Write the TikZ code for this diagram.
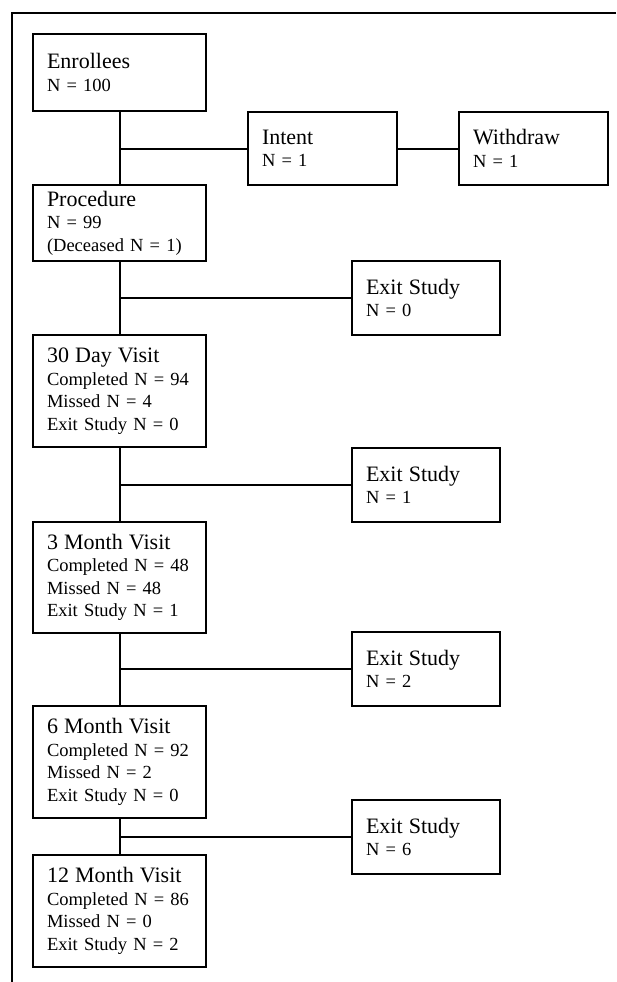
\documentclass[tikz,border=0pt]{standalone}
\usepackage{fontspec}
\setmainfont{Liberation Serif}
\newcommand{\boxhead}[1]{{\fontsize{22}{26}\selectfont #1}}

\begin{document}
\begin{tikzpicture}[x=1pt,y=-1pt,
    stage/.style={draw,line width=2pt,anchor=north west,inner xsep=14pt,inner ysep=0pt,
      text width=145pt,align=left,font=\fontsize{18.5}{22.5}\selectfont},
    side/.style={stage,text width=120pt,minimum height=74pt},
    link/.style={line width=2pt}]
      \useasboundingbox (0,0) rectangle (616,982);
      \draw[line width=2pt] (616,13) -- (12,13) -- (12,982);

      \node[stage,minimum height=77pt] (enrol) at (32,33) {\boxhead{Enrollees}\\N = 100};
      \node[side,text width=121pt,minimum height=73pt] (intent) at (247,111) {\boxhead{Intent}\\N = 1};
      \node[side,text width=121pt,minimum height=73pt] (withdraw) at (458,111) {\boxhead{Withdraw}\\N = 1};
      \node[stage,minimum height=76pt] (proc) at (32,184) {\boxhead{Procedure}\\N = 99\\(Deceased N = 1)};
      \node[side] (exita) at (351,260) {\boxhead{Exit Study}\\N = 0};
      \node[stage,minimum height=112pt] (day30) at (32,334) {\boxhead{30 Day Visit}\\Completed N = 94\\Missed N = 4\\Exit Study N = 0};
      \node[side] (exitb) at (351,447) {\boxhead{Exit Study}\\N = 1};
      \node[stage,minimum height=111pt] (month3) at (32,521) {\boxhead{3 Month Visit}\\Completed N = 48\\Missed N = 48\\Exit Study N = 1};
      \node[side] (exitc) at (351,631) {\boxhead{Exit Study}\\N = 2};
      \node[stage,minimum height=112pt] (month6) at (32,705) {\boxhead{6 Month Visit}\\Completed N = 92\\Missed N = 2\\Exit Study N = 0};
      \node[side] (exitd) at (351,799) {\boxhead{Exit Study}\\N = 6};
      \node[stage,minimum height=112pt] (month12) at (32,854) {\boxhead{12 Month Visit}\\Completed N = 86\\Missed N = 0\\Exit Study N = 2};

      \draw[link] (enrol.south) -- (proc.north);
      \draw[link] (enrol.south |- intent.west) -- (intent.west);
      \draw[link] (intent.east) -- (withdraw.west);
      \draw[link] (proc.south) -- (day30.north);
      \draw[link] (proc.south |- exita.west) -- (exita.west);
      \draw[link] (day30.south) -- (month3.north);
      \draw[link] (day30.south |- exitb.west) -- (exitb.west);
      \draw[link] (month3.south) -- (month6.north);
      \draw[link] (month3.south |- exitc.west) -- (exitc.west);
      \draw[link] (month6.south) -- (month12.north);
      \draw[link] (month6.south |- exitd.west) -- (exitd.west);

    \end{tikzpicture}
\end{document}
